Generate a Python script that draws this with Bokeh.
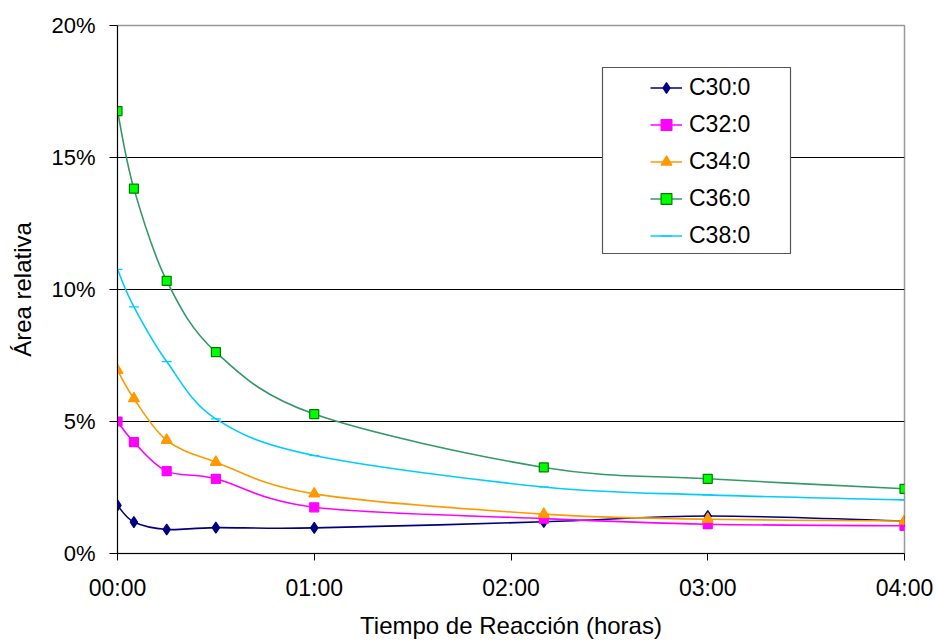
import numpy as np
from bokeh.plotting import figure
from bokeh.models import (ColumnDataSource, Legend, LegendItem, FixedTicker,
                          Range1d, BoxAnnotation)
from bokeh.embed import file_html
from bokeh.resources import INLINE

# ---- data ----
minutes = [0, 5, 15, 30, 60, 130, 180, 240]
c30 = [1.82, 1.19, 0.91, 0.98, 0.97, 1.20, 1.42, 1.23]
c32 = [5.00, 4.22, 3.12, 2.83, 1.75, 1.32, 1.11, 1.05]
c34 = [6.94, 5.87, 4.29, 3.46, 2.26, 1.49, 1.30, 1.23]
c36 = [16.76, 13.82, 10.33, 7.63, 5.28, 3.26, 2.83, 2.45]
c38 = [10.76, 9.34, 7.27, 5.10, 3.71, 2.52, 2.22, 2.03]
series_names = ["C30:0", "C32:0", "C34:0", "C36:0", "C38:0"]
x_ticks = [0, 60, 120, 180, 240]
x_tick_labels = ["00:00", "01:00", "02:00", "03:00", "04:00"]
y_ticks = [0, 5, 10, 15, 20]
y_tick_labels = ["0%", "5%", "10%", "15%", "20%"]

FONT = "Liberation Sans"

p = figure(width=936, height=641, output_backend="svg", toolbar_location=None,
           x_range=Range1d(0, 240), y_range=Range1d(0, 20),
           min_border_left=117, min_border_right=32, min_border_top=25,
           min_border_bottom=88, background_fill_color="white",
           border_fill_color="white")
p.outline_line_color = "#999999"
p.outline_line_width = 1.5

p.xgrid.visible = False
p.ygrid.ticker = FixedTicker(ticks=y_ticks[1:-1])
p.ygrid.grid_line_color = "#000000"
p.ygrid.grid_line_width = 1

p.xaxis.ticker = FixedTicker(ticks=x_ticks)
p.xaxis.major_label_overrides = dict(zip(x_ticks, x_tick_labels))
p.yaxis.ticker = FixedTicker(ticks=y_ticks)
p.yaxis.major_label_overrides = dict(zip(y_ticks, y_tick_labels))
p.xaxis.axis_label = "Tiempo de Reacción (horas)"
p.yaxis.axis_label = "Área relativa"
for ax in (p.xaxis, p.yaxis):
    ax.axis_line_color = "black"
    ax.axis_line_width = 1
    ax.major_tick_line_color = "black"
    ax.major_tick_in = 0
    ax.minor_tick_line_color = None
    ax.major_label_text_font = FONT
    ax.major_label_text_color = "black"
    ax.axis_label_text_font = FONT
    ax.axis_label_text_font_size = "24px"
    ax.axis_label_text_font_style = "normal"
    ax.axis_label_text_color = "black"
p.xaxis.major_label_text_font_size = "23px"
p.yaxis.major_label_text_font_size = "22px"
p.xaxis.major_tick_out = 7
p.yaxis.major_tick_out = 8
p.xaxis.major_label_standoff = 14
p.yaxis.major_label_standoff = 14
p.xaxis.axis_label_standoff = 8
p.yaxis.axis_label_standoff = 12


def smooth(xs, ys):
    """Bezier segments (Catmull-Rom style, as in a smoothed line chart)."""
    n = len(xs)
    d = dict(x0=[], y0=[], x1=[], y1=[], cx0=[], cy0=[], cx1=[], cy1=[])
    for i in range(n - 1):
        a = max(i - 1, 0)
        b = min(i + 2, n - 1)
        d["x0"].append(xs[i]); d["y0"].append(ys[i])
        d["x1"].append(xs[i + 1]); d["y1"].append(ys[i + 1])
        d["cx0"].append(xs[i] + (xs[i + 1] - xs[a]) / 6)
        d["cy0"].append(ys[i] + (ys[i + 1] - ys[a]) / 6)
        d["cx1"].append(xs[i + 1] - (xs[b] - xs[i]) / 6)
        d["cy1"].append(ys[i + 1] - (ys[b] - ys[i]) / 6)
    return ColumnDataSource(d)


styles = [
    dict(line="#000080", marker="diamond", fill="#000080", mline="#000080", size=11),
    dict(line="#FF00FF", marker="square", fill="#FF00FF", mline="#FF00FF", size=9),
    dict(line="#FF9900", marker="triangle", fill="#FF9900", mline="#FF9900", size=11),
    dict(line="#339966", marker="square", fill="#00FF00", mline="#008000", size=9),
    dict(line="#00CCFF", marker="dash", fill="#00CCFF", mline="#00CCFF", size=10),
]
all_series = [c30, c32, c34, c36, c38]

items = []
for name, vals, st in zip(series_names, all_series, styles):
    src = smooth(minutes, vals)
    lr = p.bezier(x0="x0", y0="y0", x1="x1", y1="y1", cx0="cx0", cy0="cy0",
                  cx1="cx1", cy1="cy1", source=src, line_color=st["line"],
                  line_width=1.6)
    sr = p.scatter(minutes, vals, marker=st["marker"], size=st["size"],
                   fill_color=st["fill"], line_color=st["mline"], line_width=1.2)
    items.append(LegendItem(label=name, renderers=[lr, sr]))

box = BoxAnnotation(left=485, right=673, bottom=300, top=486,
                    left_units="screen", right_units="screen",
                    bottom_units="screen", top_units="screen",
                    fill_color="white", fill_alpha=1.0,
                    line_color="#555555", line_width=1.2, line_alpha=1.0)
p.add_layout(box)

legend = Legend(items=items, location=(527, 298), orientation="vertical",
                label_text_font=FONT, label_text_font_size="23px",
                label_text_color="black", glyph_width=32, glyph_height=27,
                label_height=27, label_standoff=7, spacing=10, padding=6,
                border_line_alpha=0, background_fill_alpha=0)
p.add_layout(legend)

open("out.html", "w").write(file_html(p, INLINE))
